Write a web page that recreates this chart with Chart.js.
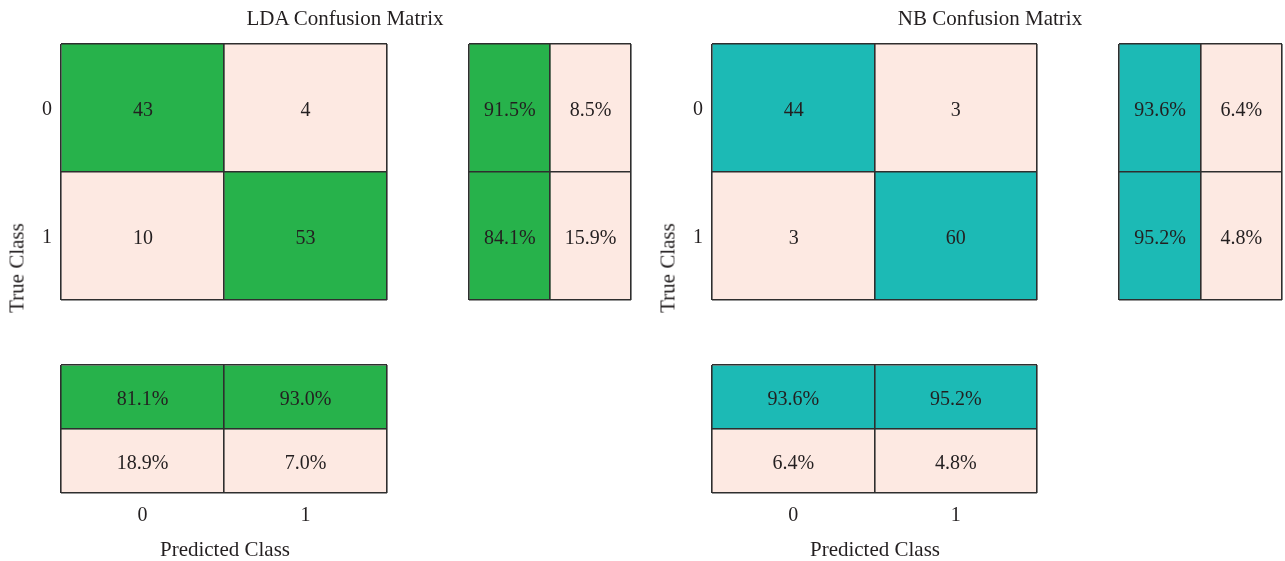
<!DOCTYPE html>
<html>
<head>
<meta charset="utf-8">
<script src="https://cdn.jsdelivr.net/npm/chart.js@4.4.1/dist/chart.umd.min.js"></script>
<style>
  html, body { margin: 0; padding: 0; background: #ffffff; }
  #fig { position: relative; width: 1285px; height: 561px; overflow: hidden; }
  #fig canvas { position: absolute; left: 0; top: 0; }
  .lbl {
    position: absolute;
    font-family: "Liberation Serif", "Times New Roman", serif;
    font-size: 21px;
    color: #231f20;
    white-space: nowrap;
    transform: translate(-50%, -50%);
  }
  .rot { transform: translate(-50%, -50%) rotate(-90deg); }
</style>
</head>
<body>
<div id="fig"></div>
<script>
// Class labels shared by both models
const classLabels = ['0', '1'];

// LDA results
const ldaCounts = [[43, 4], [10, 53]];          // rows: true class, cols: predicted class
const ldaRowPct = [[91.5, 8.5], [84.1, 15.9]];  // per true class: correct / wrong
const ldaColPct = [[81.1, 93.0], [18.9, 7.0]];  // per predicted class: correct / wrong

// Naive Bayes results
const nbCounts = [[44, 3], [3, 60]];
const nbRowPct = [[93.6, 6.4], [95.2, 4.8]];
const nbColPct = [[93.6, 95.2], [6.4, 4.8]];

const W = 1285, H = 561;
const PINK = '#fde9e2';
const LINE = '#2e2e2e';
const FONT = { family: '"Liberation Serif", "Times New Roman", serif', size: 20 };
const TEXT = '#231f20';

const fig = document.getElementById('fig');

// Writes each cell's text at the centre of its bar
const cellText = {
  id: 'cellText',
  afterDatasetsDraw(chart) {
    const ctx = chart.ctx;
    ctx.save();
    ctx.font = FONT.size + 'px ' + FONT.family;
    ctx.fillStyle = TEXT;
    ctx.textAlign = 'center';
    ctx.textBaseline = 'middle';
    chart.data.datasets.forEach((ds, di) => {
      chart.getDatasetMeta(di).data.forEach((el, ei) => {
        const p = el.getCenterPoint();
        ctx.fillText(ds.text[ei], p.x, p.y + 2.5);
      });
    });
    ctx.restore();
  }
};

function zeroPad(s) {
  s.paddingTop = 0; s.paddingBottom = 0; s.paddingLeft = 0; s.paddingRight = 0;
}

// box: cell area {L,T,R,B}; text/fill: 2x2 arrays indexed [row][col]
// orient 'h': horizontal bars, one dataset per column (row ticks on the left)
// orient 'v': vertical bars, one dataset per row (column ticks below)
function panel(spec) {
  const cv = document.createElement('canvas');
  cv.width = W; cv.height = H;
  fig.appendChild(cv);
  const horiz = spec.orient === 'h';
  const AW = spec.rowTicks ? 30 : 0;
  const AH = spec.colTicks ? 30 : 0;
  // cell outlines come from the grid, drawn above the bars
  const grid = { z: 1, color: LINE, lineWidth: 1.6, drawTicks: false };
  const border = { display: false };

  const datasets = [0, 1].map(k => ({
    data: [0, 1].map(() => [k, k + 1]),
    backgroundColor: [0, 1].map(j => horiz ? spec.fill[j][k] : spec.fill[k][j]),
    text: [0, 1].map(j => horiz ? spec.text[j][k] : spec.text[k][j]),
    borderWidth: 0,
    barPercentage: 1,
    categoryPercentage: 1,
    grouped: false
  }));

  const catAxis = {
    type: 'category',
    offset: true,
    grid: Object.assign({ offset: true }, grid),
    border: border,
    ticks: {
      display: horiz ? !!spec.rowTicks : !!spec.colTicks,
      padding: horiz ? 9 : 11,
      labelOffset: horiz ? 2 : 0,
      font: FONT,
      color: TEXT
    }
  };
  const valAxis = {
    type: 'linear',
    min: 0, max: 2,
    grid: grid,
    border: border,
    ticks: { display: false, stepSize: 1 }
  };

  let scales;
  if (horiz) {
    scales = {
      y: Object.assign({ position: 'left', afterFit: s => { s.width = AW; zeroPad(s); } }, catAxis),
      x: Object.assign({ position: 'bottom', afterFit: s => { s.height = 0; zeroPad(s); } }, valAxis)
    };
  } else {
    scales = {
      x: Object.assign({ position: 'bottom', afterFit: s => { s.height = AH; zeroPad(s); } }, catAxis),
      y: Object.assign({ position: 'left', reverse: true, afterFit: s => { s.width = 0; zeroPad(s); } }, valAxis)
    };
  }

  const b = spec.box;
  new Chart(cv, {
    type: 'bar',
    data: { labels: classLabels, datasets: datasets },
    options: {
      indexAxis: horiz ? 'y' : 'x',
      responsive: false,
      animation: false,
      devicePixelRatio: 1,
      events: [],
      layout: {
        padding: {
          left: b.L - AW,
          top: b.T,
          right: W - b.R,
          bottom: H - b.B - AH
        }
      },
      scales: scales,
      plugins: { legend: { display: false }, tooltip: { enabled: false }, title: { display: false } }
    },
    plugins: [cellText]
  });
}

const pct = v => v.toFixed(1) + '%';

function model(counts, rowPct, colPct, accent, geo) {
  const diag = [[accent, PINK], [PINK, accent]];
  const firstCol = [[accent, PINK], [accent, PINK]];
  const firstRow = [[accent, accent], [PINK, PINK]];
  panel({ box: geo.main, orient: 'h', rowTicks: true,
          text: counts.map(r => r.map(String)), fill: diag });
  panel({ box: geo.row, orient: 'h',
          text: rowPct.map(r => r.map(pct)), fill: firstCol });
  panel({ box: geo.col, orient: 'v', colTicks: true,
          text: colPct.map(r => r.map(pct)), fill: firstRow });
}

model(ldaCounts, ldaRowPct, ldaColPct, '#27b24b', {
  main: { L: 61, T: 44, R: 387, B: 300 },
  row:  { L: 469, T: 44, R: 631, B: 300 },
  col:  { L: 61, T: 365, R: 387, B: 493 }
});
model(nbCounts, nbRowPct, nbColPct, '#1cbab5', {
  main: { L: 712, T: 44, R: 1037, B: 300 },
  row:  { L: 1119, T: 44, R: 1282, B: 300 },
  col:  { L: 712, T: 365, R: 1037, B: 493 }
});

// Figure titles and axis names
function label(text, x, y, rotate) {
  const d = document.createElement('div');
  d.className = 'lbl' + (rotate ? ' rot' : '');
  d.textContent = text;
  d.style.left = x + 'px';
  d.style.top = y + 'px';
  fig.appendChild(d);
}
label('LDA Confusion Matrix', 345, 18);
label('NB Confusion Matrix', 990, 18);
label('True Class', 17, 268, true);
label('True Class', 668, 268, true);
label('Predicted Class', 225, 549);
label('Predicted Class', 875, 549);
</script>
</body>
</html>
